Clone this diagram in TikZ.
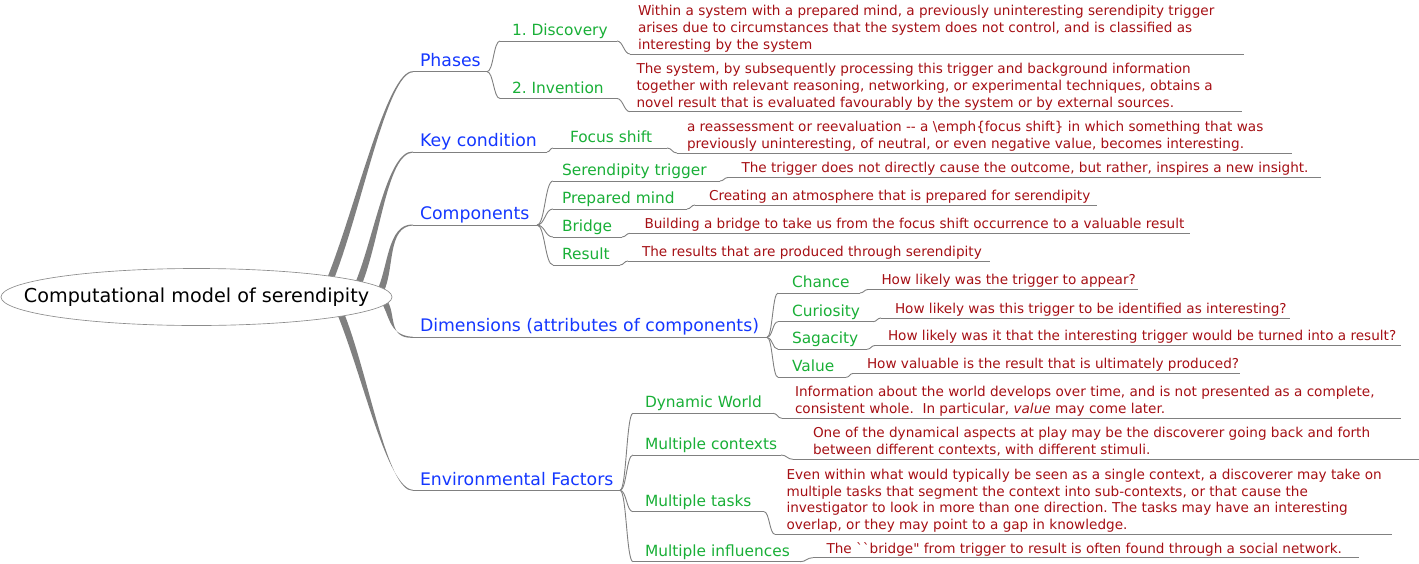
\documentclass[tikz,border=0pt]{standalone}
\usepackage{fontspec}
\setmainfont{DejaVu Sans}[Ligatures=TeXOff]
\usetikzlibrary{shapes.geometric,calc}
\pgfdeclarelayer{background}
\pgfsetlayers{background,main}
\definecolor{cblue}{RGB}{20,55,255}
\definecolor{cgreen}{RGB}{25,175,55}
\definecolor{cred}{RGB}{165,15,20}
\definecolor{cgray}{RGB}{128,128,128}
\definecolor{crootline}{RGB}{140,140,140}
\frenchspacing
\newcommand\dlines[1]{\begin{tabular}[b]{@{}l@{}}#1\end{tabular}}
\newcommand\uln[4]{\coordinate (#1-a) at (#2,#4); \coordinate (#1-b) at (#3,#4); \draw[uline] (#1-a) -- (#1-b);}
\newcommand\scurve[3]{\draw[uline] (#1) .. controls +(#3,0) and +(-#3,0) .. (#2);}
\newcommand\thickedge[2]{\fill[cgray] ($(#1)+(-3.6,0)$) .. controls ($(#1)!0.35!(#2)+(-3.2,0)$) and ($(#2)+(-26,-1.6)$) .. ($(#2)+(0,-0.5)$) -- ($(#2)+(0,0.5)$) .. controls ($(#2)+(-26,1.6)$) and ($(#1)!0.35!(#2)+(3.2,0)$) .. ($(#1)+(3.6,0)$) -- cycle;}
\begin{document}
\begin{tikzpicture}[x=1pt,y=-1pt,
  txt/.style={inner sep=0pt,outer sep=0pt,anchor=base west},
  lvA/.style={txt,text=cblue,font=\fontsize{17.3}{20}\selectfont},
  lvB/.style={txt,text=cgreen,font=\fontsize{15.4}{18}\selectfont},
  lvC/.style={txt,text=cred,font=\fontsize{13.6}{16.8}\selectfont},
  uline/.style={draw=cgray,line width=0.9pt},
  rootnode/.style={ellipse,draw=crootline,fill=white,line width=0.65pt,minimum width=391pt,minimum height=57pt,inner sep=0pt,font=\fontsize{19.2}{23}\selectfont}]
\useasboundingbox (0,0) rectangle (1419,563);
\node[rootnode] (root) at (196.5,297) {\makebox[0pt]{\raisebox{-2pt}{Computational model of serendipity}}};
\coordinate (sP) at (330,280);
\coordinate (sK) at (358,285);
\coordinate (sC) at (380,292);
\coordinate (sD) at (383,300);
\coordinate (sE) at (340,312);
% level 1
\node[lvA] (phases) at (420,66) {Phases};
\uln{phases}{413}{487}{71.7}
\node[lvA] (keyc) at (420,146) {Key condition};
\uln{keyc}{413}{547}{152}
\node[lvA] (comp) at (420,219.5) {Components};
\uln{comp}{413}{537}{225}
\node[lvA] (dims) at (420,331.7) {Dimensions (attributes of components)};
\uln{dims}{413}{767}{337.3}
\node[lvA] (env) at (420,485) {Environmental Factors};
\uln{env}{413}{620}{490.3}
\begin{pgfonlayer}{background}
\thickedge{sP}{phases-a}
\thickedge{sK}{keyc-a}
\thickedge{sC}{comp-a}
\thickedge{sD}{dims-a}
\thickedge{sE}{env-a}
\end{pgfonlayer}
% level 2
\node[lvB] (disc) at (512,35) {1. Discovery};
\uln{disc}{500}{617}{41}
\scurve{phases-b}{disc-a}{6.5}
\node[lvB] (inv) at (512,93) {2. Invention};
\uln{inv}{500}{617}{98.5}
\scurve{phases-b}{inv-a}{6.5}
\node[lvB] (focus) at (570,142) {Focus shift};
\uln{focus}{553}{667}{148}
\scurve{keyc-b}{focus-a}{3}
\node[lvB] (ser) at (562,175) {Serendipity trigger};
\uln{ser}{553}{720}{181}
\scurve{comp-b}{ser-a}{8}
\node[lvB] (prep) at (562,203) {Prepared mind};
\uln{prep}{553}{687}{209}
\scurve{comp-b}{prep-a}{8}
\node[lvB] (bridge) at (562,231) {Bridge};
\uln{bridge}{553}{622}{237}
\scurve{comp-b}{bridge-a}{8}
\node[lvB] (res) at (562,259) {Result};
\uln{res}{553}{620}{265}
\scurve{comp-b}{res-a}{8}
\node[lvB] (chance) at (792,287) {Chance};
\uln{chance}{778}{860}{293}
\scurve{dims-b}{chance-a}{5.5}
\node[lvB] (cur) at (792,316) {Curiosity};
\uln{cur}{778}{873}{321.7}
\scurve{dims-b}{cur-a}{5.5}
\node[lvB] (sag) at (792,343) {Sagacity};
\uln{sag}{778}{867}{349.3}
\scurve{dims-b}{sag-a}{5.5}
\node[lvB] (val) at (792,371) {Value};
\uln{val}{778}{846}{377.3}
\scurve{dims-b}{val-a}{5.5}
\node[lvB] (dyn) at (645,407.3) {Dynamic World};
\uln{dyn}{633}{773}{413.3}
\scurve{env-b}{dyn-a}{6.5}
\node[lvB] (ctx) at (645,449) {Multiple contexts};
\uln{ctx}{633}{781}{455}
\scurve{env-b}{ctx-a}{6.5}
\node[lvB] (task) at (645,506) {Multiple tasks};
\uln{task}{633}{764}{511.7}
\scurve{env-b}{task-a}{6.5}
\node[lvB] (inf) at (645,556) {Multiple influences};
\uln{inf}{633}{800}{561.7}
\scurve{env-b}{inf-a}{6.5}
% details
\node[lvC] (discD) at (638,49.3) {\dlines{Within a system with a prepared mind, a previously uninteresting serendipity trigger\\arises due to circumstances that the system does not control, and is classified as\\interesting by the system}};
\uln{discD}{630}{1244}{54}
\scurve{disc-b}{discD-a}{6}
\node[lvC] (invD) at (636.5,107) {\dlines{The system, by subsequently processing this trigger and background information\\together with relevant reasoning, networking, or experimental techniques, obtains a\\novel result that is evaluated favourably by the system or by external sources.}};
\uln{invD}{630}{1242}{111.7}
\scurve{inv-b}{invD-a}{6}
\node[lvC] (focusD) at (687,148.3) {\dlines{a reassessment or reevaluation -- a \textbackslash emph\{focus shift\} in which something that was\\previously uninteresting, of neutral, or even negative value, becomes interesting.}};
\uln{focusD}{677}{1292}{153}
\scurve{focus-b}{focusD-a}{5}
\node[lvC] (serD) at (741.5,172.8) {The trigger does not directly cause the outcome, but rather, inspires a new insight.};
\uln{serD}{728}{1321}{177.5}
\scurve{ser-b}{serD-a}{4}
\node[lvC] (prepD) at (709,200.3) {Creating an atmosphere that is prepared for serendipity};
\uln{prepD}{695}{1097}{205}
\scurve{prep-b}{prepD-a}{4}
\node[lvC] (bridgeD) at (644.5,228.6) {Building a bridge to take us from the focus shift occurrence to a valuable result};
\uln{bridgeD}{630}{1190}{233.3}
\scurve{bridge-b}{bridgeD-a}{4}
\node[lvC] (resD) at (642,256.3) {The results that are produced through serendipity};
\uln{resD}{628}{990}{261}
\scurve{res-b}{resD-a}{4}
\node[lvC] (chanceD) at (881.5,284.8) {How likely was the trigger to appear?};
\uln{chanceD}{868}{1138}{289.5}
\scurve{chance-b}{chanceD-a}{4}
\node[lvC] (curD) at (895,313.3) {How likely was this trigger to be identified as interesting?};
\uln{curD}{881}{1290}{318}
\scurve{cur-b}{curD-a}{4}
\node[lvC] (sagD) at (888,340.8) {How likely was it that the interesting trigger would be turned into a result?};
\uln{sagD}{875}{1401}{345.5}
\scurve{sag-b}{sagD-a}{4}
\node[lvC] (valD) at (867,368.8) {How valuable is the result that is ultimately produced?};
\uln{valD}{853}{1240}{373.5}
\scurve{val-b}{valD-a}{4}
\node[lvC] (dynD) at (795,413.6) {\dlines{Information about the world develops over time, and is not presented as a complete,\\consistent whole.\ \ In particular, \textit{value} may come later.}};
\uln{dynD}{782}{1401}{418.3}
\scurve{dyn-b}{dynD-a}{4.5}
\node[lvC] (ctxD) at (813,454.6) {\dlines{One of the dynamical aspects at play may be the discoverer going back and forth\\between different contexts, with different stimuli.}};
\uln{ctxD}{793}{1419}{459.3}
\scurve{ctx-b}{ctxD-a}{6}
\node[lvC] (taskD) at (786.5,529.6) {\dlines{Even within what would typically be seen as a single context, a discoverer may take on\\multiple tasks that segment the context into sub-contexts, or that cause the\\investigator to look in more than one direction. The tasks may have an interesting\\overlap, or they may point to a gap in knowledge.}};
\uln{taskD}{775}{1392}{534.3}
\scurve{task-b}{taskD-a}{5.5}
\node[lvC] (infD) at (826.5,553) {The ``bridge" from trigger to result is often found through a social network.};
\uln{infD}{813}{1359}{557.7}
\scurve{inf-b}{infD-a}{6.5}
\end{tikzpicture}
\end{document}
